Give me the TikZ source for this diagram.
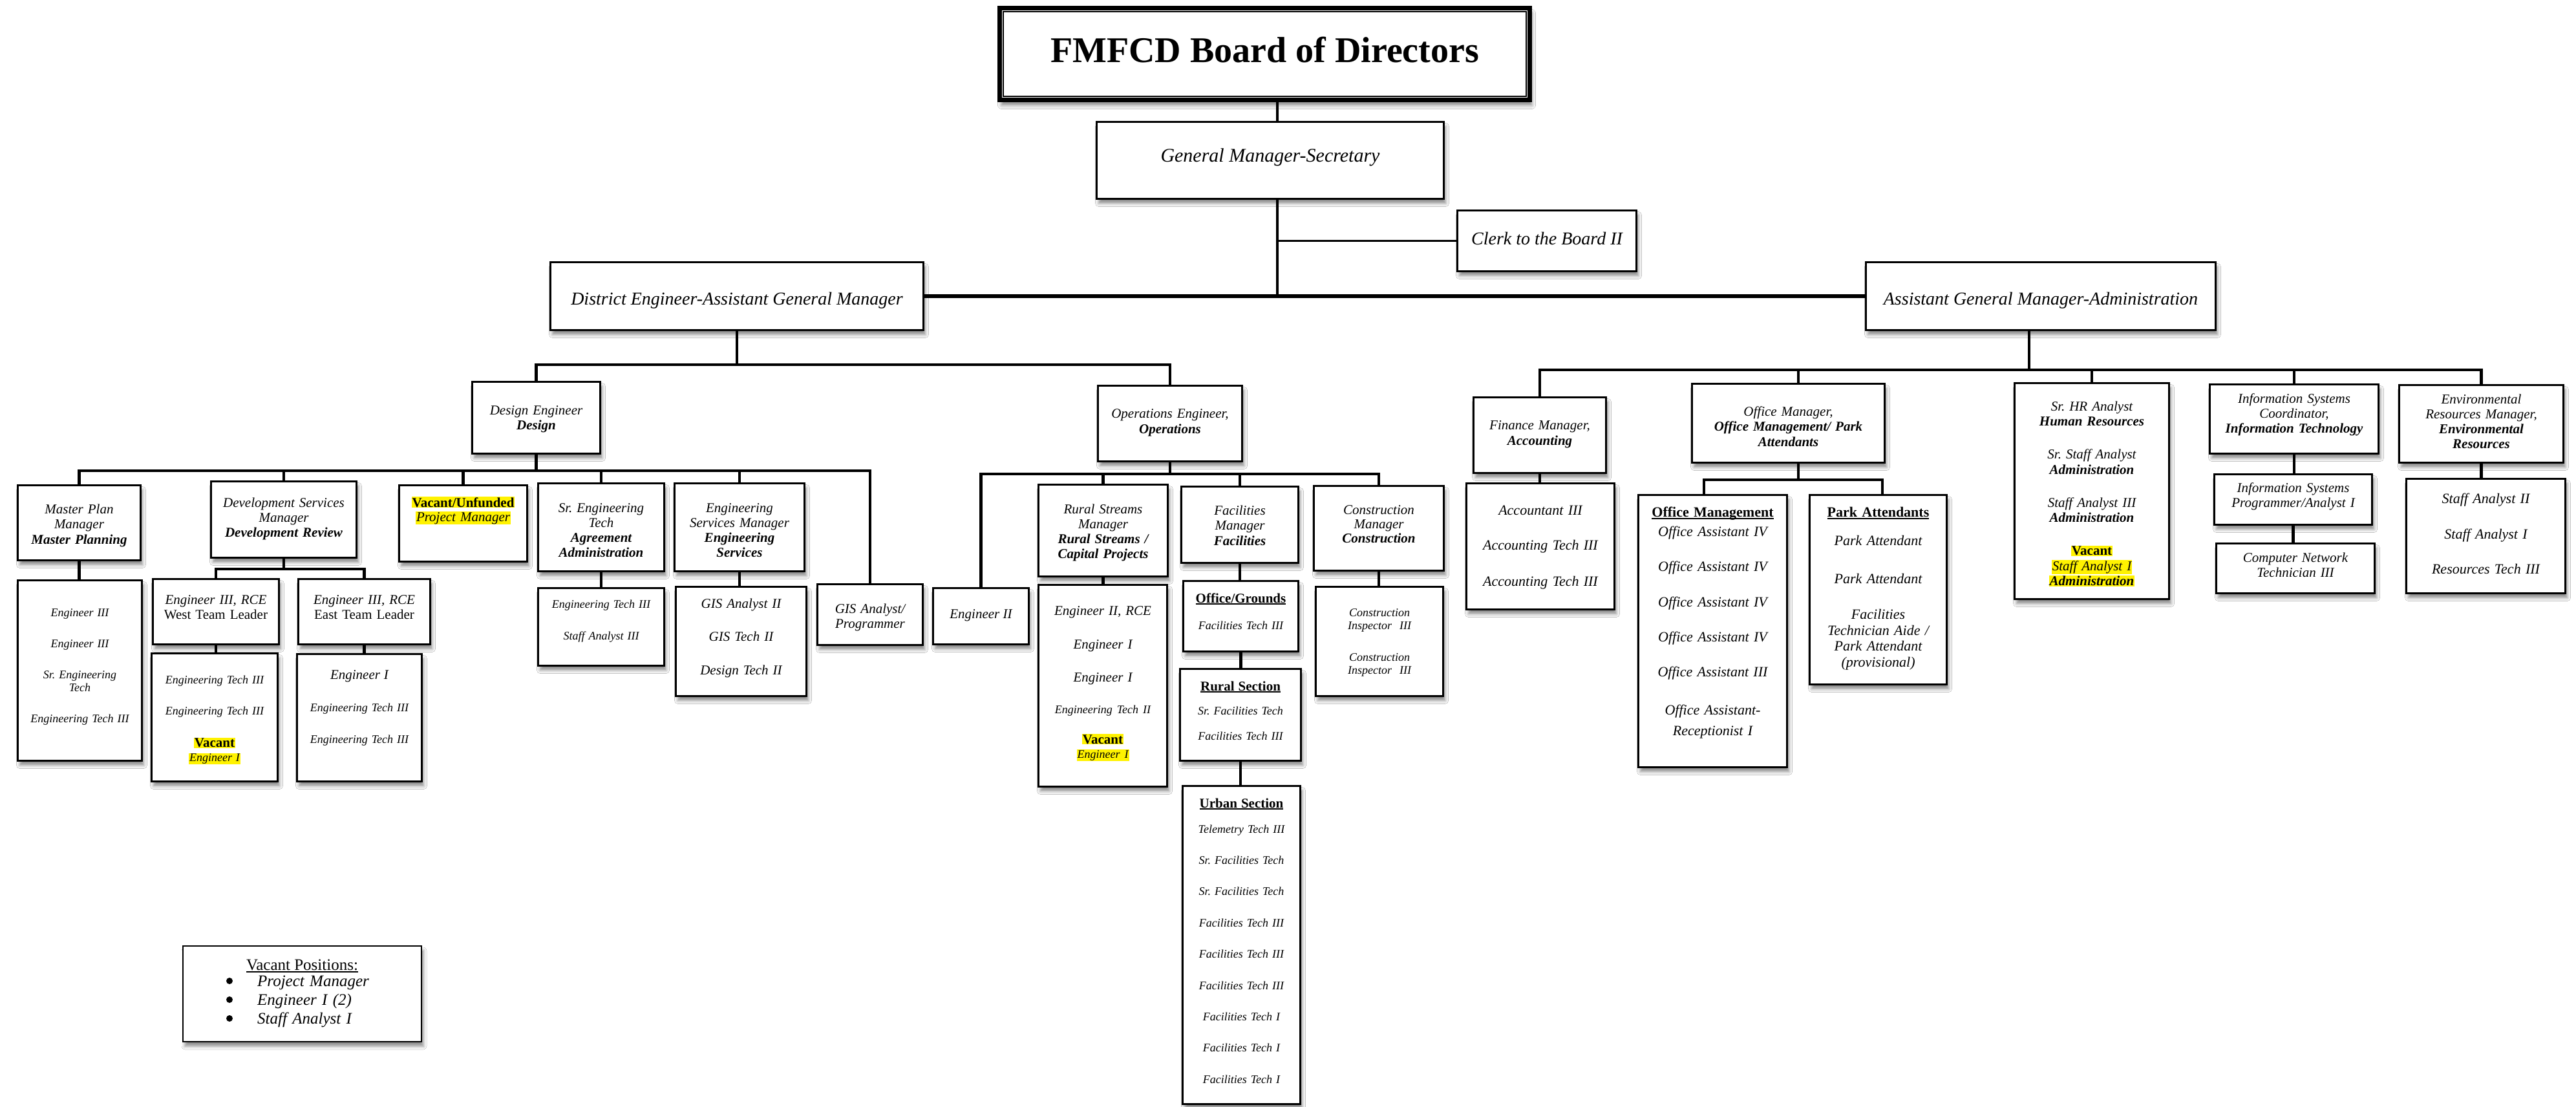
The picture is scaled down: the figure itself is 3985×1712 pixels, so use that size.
\documentclass[tikz,border=0pt]{standalone}
\usepackage{fontspec}
\setmainfont{Liberation Serif}
\usetikzlibrary{shadows.blur}
\lineskiplimit=-200pt
\frenchspacing
\newcommand\fs[2]{\fontsize{#1}{#2}\selectfont}
\newcommand\hlt[1]{{\setlength\fboxsep{1pt}\colorbox{yellow}{#1}}}
\newcommand\ulx[1]{{\setbox0=\hbox{#1}\rlap{\rule[-0.16em]{\wd0}{0.09em}}\box0}}
\tikzset{
  orgbox/.style={draw, line width=3pt, fill=white, inner sep=0pt,
    blur shadow={shadow xshift=3pt, shadow yshift=-7pt, shadow blur radius=5pt, shadow opacity=45}},
  tx/.style={anchor=base, align=center, inner sep=0pt, execute at begin node=\frenchspacing},
  conn/.style={line width=4.5pt, line join=miter},
}
\newcommand\obox[5]{\node[orgbox, minimum width={#4-#2-3}, minimum height={#5-#3-3}] (#1) at ({(#2+#4)/2},{(#3+#5)/2}) {};}
\begin{document}
\begin{tikzpicture}[x=1pt,y=-1pt]
\fill[white] (0,0) rectangle (3985,1712);
\useasboundingbox (0,0) rectangle (3985,1712);

% ---------- boxes ----------
\node[draw, line width=7pt, fill=white, inner sep=0pt, minimum width=820, minimum height=142,
  blur shadow={shadow xshift=3pt, shadow yshift=-8pt, shadow blur radius=6pt, shadow opacity=50}] (board) at (1956.5,83.5) {};
\draw[line width=1.5pt] ([shift={(9,9)}]board.north west) rectangle ([shift={(-9,-9)}]board.south east);
\obox{gm}{1695}{187}{2235}{309}
\obox{clerk}{2253}{324}{2533}{421}
\obox{district}{850}{404}{1430}{512}
\obox{agm}{2885}{404}{3429}{512}
\obox{design}{729}{589}{930}{703}
\obox{ops}{1697}{595}{1923}{715}
\obox{mp}{26}{749}{219}{868}
\obox{mpsub}{26}{896}{221}{1178}
\obox{dev}{325}{743}{553}{864}
\obox{west}{235}{894}{433}{998}
\obox{westsub}{233}{1009}{431}{1210}
\obox{east}{460}{894}{667}{998}
\obox{eastsub}{458}{1010}{654}{1210}
\obox{vac}{616}{749}{817}{870}
\obox{sreng}{831}{746}{1029}{885}
\obox{srengsub}{831}{908}{1029}{1031}
\obox{engserv}{1042}{746}{1246}{885}
\obox{engservsub}{1044}{906}{1249}{1078}
\obox{gisprog}{1263}{902}{1429}{999}
\obox{eng2}{1442}{908}{1593}{998}
\obox{rural}{1605}{748}{1808}{893}
\obox{ruralsub}{1605}{903}{1807}{1218}
\obox{fac}{1826}{751}{2010}{872}
\obox{og}{1829}{897}{2010}{1009}
\obox{rsec}{1824}{1033}{2014}{1178}
\obox{urban}{1828}{1214}{2013}{1709}
\obox{constr}{2031}{750}{2235}{884}
\obox{constrsub}{2034}{906}{2234}{1078}
\obox{fin}{2278}{613}{2486}{733}
\obox{finsub}{2267}{746}{2499}{944}
\obox{om}{2616}{592}{2917}{717}
\obox{omsub}{2533}{764}{2766}{1188}
\obox{park}{2798}{764}{3013}{1060}
\obox{hr}{3115}{591}{3357}{928}
\obox{is}{3417}{593}{3681}{703}
\obox{isprog}{3424}{732}{3671}{813}
\obox{cnet}{3427}{839}{3675}{919}
\obox{env}{3710}{594}{3967}{717}
\obox{envsub}{3721}{739}{3970}{919}
\node[draw, line width=2pt, fill=white, inner sep=0pt, minimum width=369, minimum height=148,
  blur shadow={shadow xshift=3pt, shadow yshift=-7pt, shadow blur radius=5pt, shadow opacity=45}] (legend) at (467.5,1537) {};

% ---------- texts ----------
\node[tx, font={\fs{56}{60}\bfseries}] (boardT) at (1956.5,97) {FMFCD Board of Directors};
\node[tx, font={\fs{30}{32}\itshape}] (gmT) at (1965,251) {General Manager-Secretary};
\node[tx, font={\fs{28}{30}\itshape}] (clerkT) at (2393,378) {Clerk to the Board II};
\node[tx, font={\fs{28}{30}\itshape}] (districtT) at (1140,471) {District Engineer-Assistant General Manager};
\node[tx, font={\fs{28}{30}\itshape}] (agmT) at (3157,471) {Assistant General Manager-Administration};

\node[tx, text width=201, font={\fs{21}{23}\itshape}] (designT) at (829.5,641) {Design Engineer\\ \textbf{Design}};
\node[tx, text width=226, font={\fs{21}{24}\itshape}] (opsT) at (1810,646) {Operations Engineer,\\ \textbf{Operations}};

\node[tx, text width=193, font={\fs{21}{23.5}\itshape}] (mpT) at (122.5,794) {Master Plan\\ Manager\\ \textbf{Master Planning}};
\node[tx, text width=195, font={\fs{18}{20}\itshape}] (mpsubT) at (123.5,953.5) {Engineer III\\[28pt] Engineer III\\[28pt] Sr. Engineering\\ Tech\\[28pt] Engineering Tech III};
\node[tx, text width=228, font={\fs{21}{23}\itshape}] (devT) at (439,784) {Development Services\\ Manager\\ \textbf{Development Review}};
\node[tx, text width=198, font={\fs{21}{23}\itshape}] (westT) at (334,934) {Engineer III, RCE\\ \textup{West Team Leader}};
\node[tx, text width=207, font={\fs{21}{23}\itshape}] (eastT) at (563.5,934) {Engineer III, RCE\\ \textup{East Team Leader}};
\node[tx, text width=198, font={\fs{18}{22}\itshape}] (westsubT) at (332,1057.5) {Engineering Tech III\\[26pt] Engineering Tech III\\[28pt] {\fs{21}{22}\hlt{\textup{\textbf{Vacant}}}}\\ \hlt{Engineer I}};
\node[tx, text width=196, font={\fs{18}{22}\itshape}] (eastsubT) at (556,1050) {{\fs{21}{22}Engineer I}\\[28pt] Engineering Tech III\\[27pt] Engineering Tech III};
\node[tx, text width=201, font={\fs{21}{22}\itshape}] (vacT) at (716.5,784) {\hlt{\textup{\textbf{Vacant/Unfunded}}}\\ \hlt{Project Manager}};
\node[tx, text width=198, font={\fs{21}{23.3}\itshape}] (srengT) at (930,792) {Sr. Engineering\\ Tech\\ \textbf{Agreement}\\ \textbf{Administration}};
\node[tx, text width=198, font={\fs{18}{20}\itshape}] (srengsubT) at (930,940.5) {Engineering Tech III\\[29pt] Staff Analyst III};
\node[tx, text width=204, font={\fs{21}{23.3}\itshape}] (engservT) at (1144,792) {Engineering\\ Services Manager\\ \textbf{Engineering}\\ \textbf{Services}};
\node[tx, text width=205, font={\fs{21}{22}\itshape}] (engservsubT) at (1146.5,940) {GIS Analyst II\\[29pt] GIS Tech II\\[30pt] Design Tech II};
\node[tx, text width=166, font={\fs{21}{23}\itshape}] (gisprogT) at (1346,948) {GIS Analyst/\\ Programmer};

\node[tx, font={\fs{21}{23}\itshape}] (eng2T) at (1517.5,956) {Engineer II};
\node[tx, text width=203, font={\fs{21}{23.3}\itshape}] (ruralT) at (1706.5,794) {Rural Streams\\ Manager\\ \textbf{Rural Streams /}\\ \textbf{Capital Projects}};
\node[tx, text width=202, font={\fs{21}{22}\itshape}] (ruralsubT) at (1706,951) {Engineer II, RCE\\[30pt] Engineer I\\[29pt] Engineer I\\[27pt] {\fs{18}{22}Engineering Tech II}\\[25pt] \hlt{\textup{\textbf{Vacant}}}\\ {\fs{18}{22}\hlt{Engineer I}}};
\node[tx, text width=184, font={\fs{21}{23.5}\itshape}] (facT) at (1918,796) {Facilities\\ Manager\\ \textbf{Facilities}};
\node[tx, text width=181, font={\fs{18}{22}\itshape}] (ogT) at (1919.5,932) {{\fs{21}{22}\textup{\textbf{\ulx{Office/Grounds}}}}\\[19pt] Facilities Tech III};
\node[tx, text width=190, font={\fs{18}{20}\itshape}] (rsecT) at (1919,1068) {{\fs{21}{20}\textup{\textbf{\ulx{Rural Section}}}}\\[17pt] Sr. Facilities Tech\\[19pt] Facilities Tech III};
\node[tx, text width=185, font={\fs{18}{20}\itshape}] (urbanT) at (1920.5,1249) {{\fs{21}{20}\textup{\textbf{\ulx{Urban Section}}}}\\[19pt] Telemetry Tech III\\[28.4pt] Sr. Facilities Tech\\[28.4pt] Sr. Facilities Tech\\[28.4pt] Facilities Tech III\\[28.4pt] Facilities Tech III\\[28.4pt] Facilities Tech III\\[28.4pt] Facilities Tech I\\[28.4pt] Facilities Tech I\\[28.4pt] Facilities Tech I};
\node[tx, text width=204, font={\fs{21}{22}\itshape}] (constrT) at (2133,795) {Construction\\ Manager\\ \textbf{Construction}};
\node[tx, text width=200, font={\fs{18}{20}\itshape}] (constrsubT) at (2134,953.5) {Construction\\ Inspector\ \ III\\[29pt] Construction\\ Inspector\ \ III};

\node[tx, text width=208, font={\fs{21}{24}\itshape}] (finT) at (2382,664) {Finance Manager,\\ \textbf{Accounting}};
\node[tx, text width=232, font={\fs{22}{22}\itshape}] (finsubT) at (2383,796.5) {Accountant III\\[32pt] Accounting Tech III\\[34pt] Accounting Tech III};
\node[tx, text width=301, font={\fs{21}{23.5}\itshape}] (omT) at (2766.5,643) {Office Manager,\\ \textbf{Office Management/ Park}\\ \textbf{Attendants}};
\node[tx, text width=233, font={\fs{22}{30}\itshape}] (omsubT) at (2649.5,799.5) {\textup{\textbf{\ulx{Office Management}}}\\ Office Assistant IV\\[24pt] Office Assistant IV\\[25pt] Office Assistant IV\\[24pt] Office Assistant IV\\[24pt] Office Assistant III\\[29pt] Office Assistant-\\[2pt] Receptionist I};
\node[tx, text width=215, font={\fs{22}{24.5}\itshape}] (parkT) at (2905.5,799.5) {\textup{\textbf{\ulx{Park Attendants}}}\\[19.5pt] Park Attendant\\[34.5pt] Park Attendant\\[30.5pt] Facilities\\ Technician Aide /\\ Park Attendant\\ (provisional)};
\node[tx, text width=242, font={\fs{21}{23.5}\itshape}] (hrT) at (3236,635) {Sr. HR Analyst\\ \textbf{Human Resources}\\[27.5pt] Sr. Staff Analyst\\ \textbf{Administration}\\[27.5pt] Staff Analyst III\\ \textbf{Administration}\\[27.5pt] \hlt{\textup{\textbf{Vacant}}}\\ \hlt{Staff Analyst I}\\ \hlt{\textbf{Administration}}};
\node[tx, text width=264, font={\fs{21}{23}\itshape}] (isT) at (3549,623) {Information Systems\\ Coordinator,\\ \textbf{Information Technology}};
\node[tx, text width=247, font={\fs{21}{23}\itshape}] (isprogT) at (3547.5,761) {Information Systems\\ Programmer/Analyst I};
\node[tx, text width=248, font={\fs{21}{23}\itshape}] (cnetT) at (3551,869) {Computer Network\\ Technician III};
\node[tx, text width=257, font={\fs{21}{23.3}\itshape}] (envT) at (3838.5,624) {Environmental\\ Resources Manager,\\ \textbf{Environmental}\\ \textbf{Resources}};
\node[tx, text width=249, font={\fs{22}{22}\itshape}] (envsubT) at (3845.5,778.5) {Staff Analyst II\\[33pt] Staff Analyst I\\[32pt] Resources Tech III};

\node[tx, font={\fs{25}{28}}] (legH) at (467.5,1500) {\ulx{Vacant Positions:}};
\node[anchor=base west, align=left, text width=240, inner sep=0pt, font={\fs{25}{29}\itshape}] (legI) at (398,1525)
  {Project Manager\\ Engineer I (2)\\ Staff Analyst I};
\foreach \yy in {1517,1546,1575} \fill (355,\yy) circle (5);

% ---------- connectors ----------
\coordinate (trunk) at (1976,0);
\coordinate (agmd) at ([xshift=-18pt]agm.south);
\coordinate (omup) at ([xshift=15.5pt]om.north);
\coordinate (omdn) at ([xshift=15.5pt]om.south);
\coordinate (omsubup) at ([xshift=-13.5pt]omsub.north);
\coordinate (parkup) at ([xshift=6.5pt]park.north);

\draw[conn] (board.south -| trunk) -- (gm.north -| trunk);
\draw[conn] (gm.south -| trunk) -- (trunk |- district.east);
\draw[conn, line width=3.5pt] (clerk.west) -- (clerk.west -| trunk);
\draw[conn, line width=6pt] (district.east) -- (agm.west);

\draw[conn] (district.south) -- (district.south |- 0,564);
\draw[conn] (design.north) -- (design.north |- 0,564) -- (ops.north |- 0,564) -- (ops.north);

\draw[conn] (design.south) -- (design.south |- 0,728);
\draw[conn] (mp.north) -- (mp.north |- 0,728) -- (gisprog.north |- 0,728) -- (gisprog.north);
\foreach \n in {dev,vac,sreng,engserv} \draw[conn] (\n.north) -- (\n.north |- 0,728);
\draw[conn] (mp.south) -- (mp.south |- mpsub.north);
\draw[conn] (dev.south) -- (dev.south |- 0,880);
\draw[conn] (west.north) -- (west.north |- 0,880) -- (east.north |- 0,880) -- (east.north);
\draw[conn] (west.south) -- (west.south |- westsub.north);
\draw[conn] (east.south) -- (east.south |- eastsub.north);
\draw[conn] (sreng.south) -- (sreng.south |- srengsub.north);
\draw[conn] (engserv.south) -- (engserv.south |- engservsub.north);

\draw[conn] (ops.south) -- (ops.south |- 0,733);
\draw[conn] (eng2.north) -- (eng2.north |- 0,733) -- (constr.north |- 0,733) -- (constr.north);
\foreach \n in {rural,fac} \draw[conn] (\n.north) -- (\n.north |- 0,733);
\draw[conn] (rural.south) -- (rural.south |- ruralsub.north);
\draw[conn] (fac.south) -- (fac.south |- og.north);
\draw[conn] (og.south) -- (og.south |- rsec.north);
\draw[conn] (rsec.south) -- (rsec.south |- urban.north);
\draw[conn] (constr.south) -- (constr.south |- constrsub.north);

\draw[conn] (agmd) -- (agmd |- 0,572);
\draw[conn] (fin.north) -- (fin.north |- 0,572) -- (env.north |- 0,572) -- (env.north);
\draw[conn] (omup) -- (omup |- 0,572);
\foreach \n in {hr,is} \draw[conn] (\n.north) -- (\n.north |- 0,572);
\draw[conn] (fin.south) -- (fin.south |- finsub.north);
\draw[conn] (omdn) -- (omdn |- 0,742);
\draw[conn] (omsubup) -- (omsubup |- 0,742) -- (parkup |- 0,742) -- (parkup);
\draw[conn] (is.south) -- (is.south |- isprog.north);
\draw[conn] (isprog.south) -- (isprog.south |- cnet.north);
\draw[conn] (env.south) -- (env.south |- envsub.north);
\end{tikzpicture}
\end{document}
